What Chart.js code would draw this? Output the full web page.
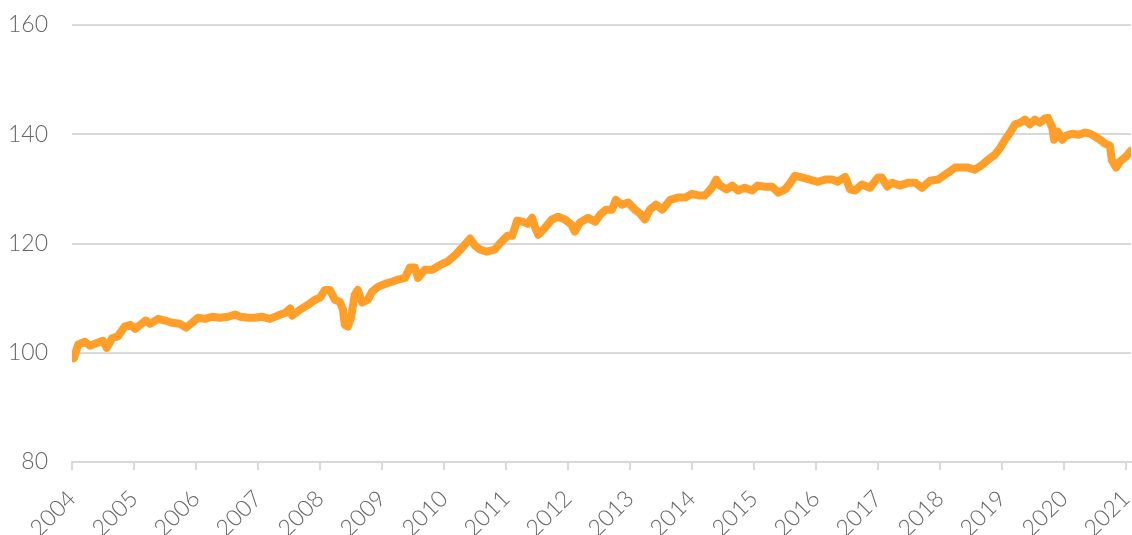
<!DOCTYPE html>
<html>
<head>
<meta charset="utf-8">
<script src="https://cdn.jsdelivr.net/npm/chart.js@4"></script>
<style>
  html, body { margin: 0; padding: 0; background: #fff; }
  #wrap { width: 1132px; height: 535px; }
</style>
</head>
<body>
<div id="wrap"><canvas id="indexChart"></canvas></div>
<script>
// decimal year of each reading
const years = [
  2004.00, 2004.03, 2004.10, 2004.21, 2004.29, 2004.40, 2004.50, 2004.56, 2004.65, 2004.74,
  2004.85, 2004.94, 2005.02, 2005.10, 2005.19, 2005.26, 2005.39, 2005.50, 2005.61, 2005.74,
  2005.84, 2005.94, 2006.03, 2006.15, 2006.26, 2006.39, 2006.52, 2006.63, 2006.71, 2006.84,
  2006.95, 2007.06, 2007.19, 2007.32, 2007.44, 2007.52, 2007.55, 2007.68, 2007.81, 2007.92,
  2008.00, 2008.08, 2008.16, 2008.24, 2008.32, 2008.37, 2008.40, 2008.45, 2008.50, 2008.56,
  2008.61, 2008.68, 2008.77, 2008.84, 2008.94, 2009.05, 2009.16, 2009.26, 2009.37, 2009.45,
  2009.53, 2009.58, 2009.69, 2009.81, 2009.94, 2010.06, 2010.18, 2010.29, 2010.42, 2010.50,
  2010.58, 2010.69, 2010.82, 2010.90, 2011.02, 2011.10, 2011.18, 2011.26, 2011.35, 2011.42,
  2011.47, 2011.52, 2011.63, 2011.74, 2011.84, 2011.95, 2012.06, 2012.11, 2012.19, 2012.32,
  2012.44, 2012.52, 2012.61, 2012.71, 2012.77, 2012.87, 2012.97, 2013.08, 2013.16, 2013.24,
  2013.32, 2013.42, 2013.52, 2013.65, 2013.77, 2013.89, 2014.00, 2014.10, 2014.21, 2014.32,
  2014.39, 2014.45, 2014.56, 2014.65, 2014.74, 2014.85, 2014.97, 2015.06, 2015.18, 2015.29,
  2015.39, 2015.50, 2015.58, 2015.66, 2015.77, 2015.90, 2016.03, 2016.15, 2016.26, 2016.35,
  2016.47, 2016.55, 2016.63, 2016.74, 2016.87, 2017.00, 2017.06, 2017.15, 2017.23, 2017.35,
  2017.48, 2017.60, 2017.71, 2017.84, 2017.97, 2018.08, 2018.16, 2018.24, 2018.35, 2018.45,
  2018.56, 2018.68, 2018.77, 2018.89, 2018.97, 2019.05, 2019.13, 2019.21, 2019.29, 2019.37,
  2019.45, 2019.53, 2019.61, 2019.69, 2019.74, 2019.81, 2019.84, 2019.90, 2019.97, 2020.03,
  2020.13, 2020.23, 2020.34, 2020.42, 2020.50, 2020.58, 2020.66, 2020.74, 2020.77, 2020.84,
  2020.90, 2021.00, 2021.08
];

const values = [
  99.7, 99.0, 101.5, 102.0, 101.3, 101.8, 102.2, 100.9, 102.7, 103.0,
  104.8, 105.1, 104.4, 105.1, 105.9, 105.3, 106.2, 105.9, 105.5, 105.3,
  104.6, 105.5, 106.4, 106.2, 106.6, 106.4, 106.6, 107.0, 106.6, 106.4,
  106.4, 106.6, 106.2, 106.8, 107.3, 108.1, 106.8, 107.9, 108.8, 109.7,
  110.1, 111.5, 111.5, 109.7, 109.3, 107.9, 105.1, 104.8, 106.4, 110.6,
  111.5, 109.2, 109.7, 111.2, 112.1, 112.6, 113.0, 113.4, 113.7, 115.6,
  115.6, 113.7, 115.2, 115.2, 116.1, 116.7, 117.9, 119.2, 120.9, 119.6,
  118.9, 118.5, 118.9, 120.0, 121.4, 121.4, 124.2, 124.0, 123.6, 124.7,
  122.9, 121.6, 122.9, 124.4, 124.9, 124.4, 123.4, 122.2, 123.8, 124.7,
  124.0, 125.3, 126.2, 126.2, 128.0, 127.1, 127.5, 126.2, 125.5, 124.4,
  126.2, 127.1, 126.2, 128.0, 128.4, 128.4, 129.1, 128.8, 128.8, 130.2,
  131.7, 130.6, 129.9, 130.6, 129.7, 130.2, 129.7, 130.6, 130.4, 130.4,
  129.3, 129.9, 131.0, 132.4, 132.1, 131.7, 131.3, 131.7, 131.7, 131.3,
  132.2, 129.9, 129.7, 130.8, 130.2, 132.1, 132.1, 130.4, 131.1, 130.6,
  131.1, 131.1, 130.2, 131.5, 131.7, 132.6, 133.2, 133.9, 133.9, 133.9,
  133.5, 134.4, 135.3, 136.3, 137.5, 139.0, 140.3, 141.8, 142.1, 142.7,
  141.8, 142.7, 142.1, 142.9, 143.0, 141.2, 139.0, 140.5, 139.0, 139.7,
  140.1, 139.9, 140.3, 140.1, 139.6, 139.0, 138.3, 137.9, 135.3, 133.9,
  135.0, 135.9, 137.0
];

const yTicks = [80, 100, 120, 140, 160];

const points = years.map((yr, i) => ({ x: yr, y: values[i] }));
const tickFont = { family: "Lato, 'Open Sans', sans-serif", size: 23, weight: 300 };

new Chart(document.getElementById("indexChart").getContext("2d"), {
  type: "line",
  data: {
    datasets: [{
      data: points,
      borderColor: "#ff9f29",
      borderWidth: 8,
      borderJoinStyle: "round",
      borderCapStyle: "round",
      pointRadius: 0,
      tension: 0,
      fill: false
    }]
  },
  options: {
    responsive: true,
    maintainAspectRatio: false,
    animation: false,
    layout: { padding: { left: 10, right: 1, top: 25, bottom: 0 } },
    plugins: { legend: { display: false }, tooltip: { enabled: false } },
    scales: {
      x: {
        type: "linear",
        min: 2004,
        max: 2021.08,
        // labels run off the bottom edge in the original, so pin the axis height
        afterFit(scale) { scale.paddingRight = 0; scale.paddingLeft = 0; scale.height = 73; },
        grid: { drawOnChartArea: false, drawTicks: true, tickLength: 8, color: "#d9d9d9", lineWidth: 2 },
        border: { display: true, color: "#d9d9d9", width: 2 },
        ticks: {
          stepSize: 1,
          includeBounds: false,
          autoSkip: false,
          maxRotation: 45,
          minRotation: 45,
          padding: 15,
          color: "#666",
          font: tickFont,
          callback: v => String(v)
        }
      },
      y: {
        min: 80,
        max: 160,
        afterBuildTicks(scale) { scale.ticks = yTicks.map(v => ({ value: v })); },
        afterFit(scale) { scale.width = 62; scale.paddingTop = 0; scale.paddingBottom = 0; },
        grid: { drawTicks: false, color: "#d9d9d9", lineWidth: 2 },
        border: { display: false },
        ticks: { padding: 24, color: "#666", font: tickFont }
      }
    }
  }
});
</script>
</body>
</html>
